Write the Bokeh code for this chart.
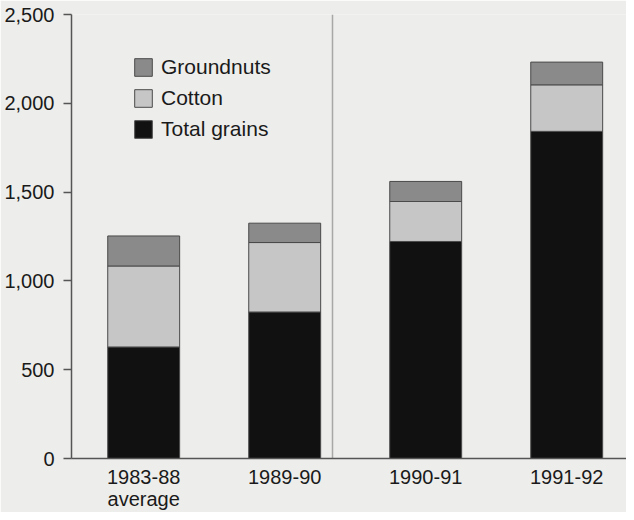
from bokeh.plotting import figure
from bokeh.models import (ColumnDataSource, Legend, LegendItem, FixedTicker,
                          NumeralTickFormatter, Span, Range1d)
from bokeh.embed import file_html
from bokeh.resources import INLINE

categories = ["1983-88\naverage", "1989-90", "1990-91", "1991-92"]
grains = [628, 825, 1222, 1842]
cotton = [456, 391, 225, 262]
groundnuts = [169, 109, 113, 128]
y_ticks = [0, 500, 1000, 1500, 2000, 2500]

series = ["grains", "cotton", "groundnuts"]
labels = {"grains": "Total grains", "cotton": "Cotton", "groundnuts": "Groundnuts"}
colors = ["#111111", "#c6c6c6", "#8a8a8a"]

xs = list(range(len(categories)))
src = ColumnDataSource(dict(x=xs, grains=grains, cotton=cotton, groundnuts=groundnuts))

FONT = "Liberation Sans"
BG = "#ededeb"

p = figure(width=626, height=512, output_backend="svg", toolbar_location=None,
           x_range=Range1d(-0.512, 3.424), y_range=Range1d(0, 2500),
           min_border_left=71, min_border_right=0, min_border_top=14,
           min_border_bottom=54)
p.background_fill_color = BG
p.border_fill_color = BG
p.outline_line_color = None
p.grid.visible = False

# faint vertical fold line seen in the reference
p.add_layout(Span(location=1.339, dimension="height", line_color="#a8a8a8",
                  line_width=1.5, level="underlay"))

rs = p.vbar_stack(series, x="x", width=0.51, source=src, fill_color=colors,
                  line_color="#4a4a4a", line_width=1)

items = [LegendItem(label=labels[s], renderers=[r]) for s, r in zip(series, rs)]
items = items[::-1]
legend = Legend(items=items, location=(61, 317), orientation="vertical",
                glyph_width=22, glyph_height=22, label_height=22, spacing=7,
                label_standoff=7, padding=0, margin=0,
                border_line_color=None, background_fill_alpha=0,
                label_text_font=FONT, label_text_font_size="21px",
                label_text_color="#1a1a1a")
p.add_layout(legend)

p.yaxis.ticker = FixedTicker(ticks=y_ticks)
p.yaxis.formatter = NumeralTickFormatter(format="0,0")
p.yaxis.major_tick_out = 8
p.yaxis.major_tick_in = 0
p.yaxis.minor_tick_line_color = None
p.yaxis.major_label_standoff = 9

p.xaxis.ticker = FixedTicker(ticks=xs)
p.xaxis.major_label_overrides = {i: c for i, c in enumerate(categories)}
p.xaxis.major_tick_out = 0
p.xaxis.major_tick_in = 0
p.xaxis.minor_tick_line_color = None
p.xaxis.major_label_standoff = 7
p.xaxis.major_label_text_line_height = 1.0

for ax in (p.xaxis, p.yaxis):
    ax.axis_line_color = "#555555"
    ax.axis_line_width = 1.5
    ax.major_tick_line_color = "#555555"
    ax.major_tick_line_width = 1.5
    ax.major_label_text_font = FONT
    ax.major_label_text_font_size = "20px"
    ax.major_label_text_color = "#1a1a1a"

open("out.html", "w").write(file_html(p, INLINE))
